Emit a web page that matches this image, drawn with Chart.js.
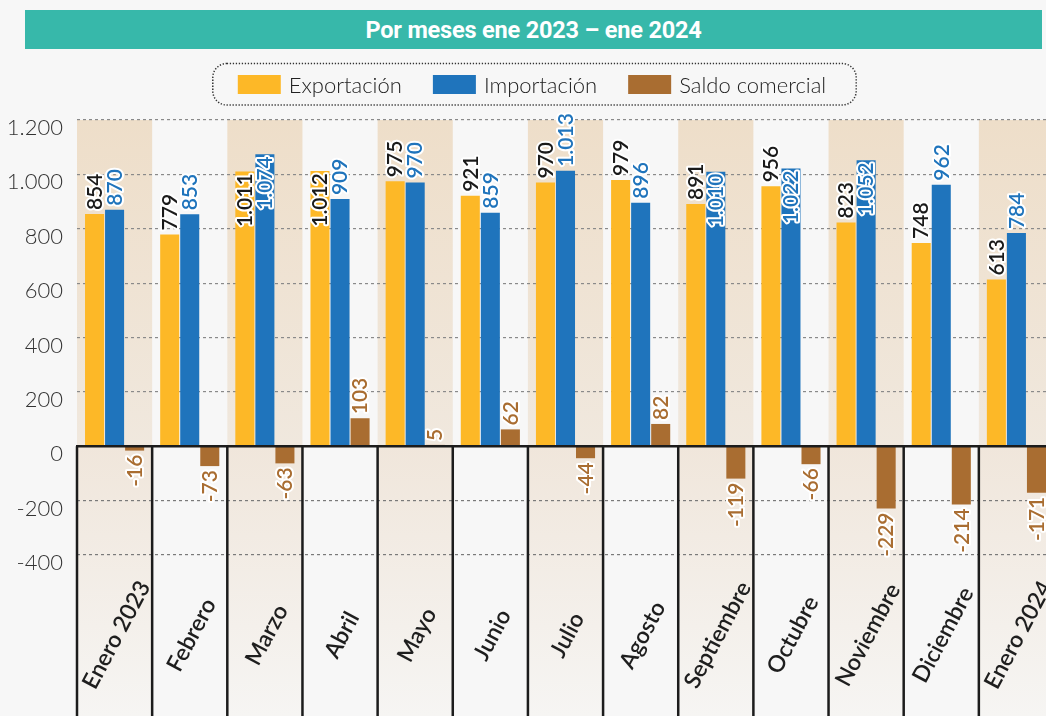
<!DOCTYPE html>
<html><head><meta charset="utf-8">
<script src="https://cdn.jsdelivr.net/npm/chart.js@4"></script>
<style>
html,body{margin:0;padding:0;background:#f7f7f7;overflow:hidden;width:1046px;height:716px}
#wrap{position:relative;width:1060px;height:716px}
#hdr{position:absolute;left:25px;top:10px;width:1017px;height:39px;background:#37b8aa;display:flex;align-items:center;justify-content:center;}
#hdr span{color:#fff;font:700 24px Roboto, sans-serif;display:inline-block;transform:scaleX(0.98);white-space:nowrap;letter-spacing:-0.2px}
canvas{position:absolute;left:0;top:0}
</style></head>
<body><div id="wrap"><canvas id="c" width="1060" height="716"></canvas><div id="hdr"><span>Por meses ene 2023 – ene 2024</span></div></div>
<script>
const categories = ['Enero 2023','Febrero','Marzo','Abril','Mayo','Junio','Julio','Agosto','Septiembre','Octubre','Noviembre','Diciembre','Enero 2024'];
const exportaciones = [854, 779, 1011, 1012, 975, 921, 970, 979, 891, 956, 823, 748, 613];
const importaciones = [870, 853, 1074, 909, 970, 859, 1013, 896, 1010, 1022, 1052, 962, 784];
const saldoComercial = [-16, -73, -63, 103, 5, 62, -44, 82, -119, -66, -229, -214, -171];
const yTickValues = [-400, -200, 0, 200, 400, 600, 800, 1000, 1200];
const seriesNames = ['Exportación', 'Importación', 'Saldo comercial'];

// label placement choices (style): which bars carry their value label inside the bar top
const insideLabels = [[2, 3], [2, 8, 9, 10], []];
const barColors = ['#fdb827', '#1f74bc', '#a96d31'];
const labelColors = ['#1a1a1a', '#1f74bc', '#a96d31'];

function fmt(v){
  const s = Math.abs(v).toString().replace(/\B(?=(\d{3})+(?!\d))/g, '.');
  return (v < 0 ? '-' : '') + s;
}

const decor = {
  id: 'decor',
  beforeDraw(chart){
    const {ctx, chartArea, scales:{x, y}} = chart;
    const zeroY = y.getPixelForValue(0);
    const half = (x.getPixelForValue(1) - x.getPixelForValue(0)) / 2;
    const H = chart.height;
    const gUp = ctx.createLinearGradient(0, chartArea.top, 0, zeroY);
    gUp.addColorStop(0, '#eedec9'); gUp.addColorStop(1, '#f0e8de');
    const gDn = ctx.createLinearGradient(0, zeroY, 0, H);
    gDn.addColorStop(0, '#f0e6db'); gDn.addColorStop(1, '#f6f5f3');
    ctx.save();
    categories.forEach((c, i) => {
      if (i % 2) return;
      const cx = x.getPixelForValue(i);
      ctx.fillStyle = gUp; ctx.fillRect(cx - half, chartArea.top, 2 * half, zeroY - chartArea.top);
      ctx.fillStyle = gDn; ctx.fillRect(cx - half, zeroY, 2 * half, H - zeroY);
    });
    ctx.restore();
  },
  afterDatasetsDraw(chart){
    const {ctx, chartArea, scales:{x, y}} = chart;
    const zeroY = y.getPixelForValue(0);
    const half = (x.getPixelForValue(1) - x.getPixelForValue(0)) / 2;
    const H = chart.height;
    ctx.save();
    ctx.strokeStyle = '#1c1c1c';
    ctx.lineWidth = 2.5;
    ctx.beginPath();
    ctx.moveTo(chartArea.left - 1, zeroY); ctx.lineTo(chartArea.right, zeroY);
    for (let i = 0; i <= categories.length; i++) {
      const bx = x.getPixelForValue(0) - half + i * 2 * half;
      ctx.moveTo(bx, zeroY); ctx.lineTo(bx, H);
    }
    ctx.stroke();

    // value labels
    ctx.font = '600 21px "Lato Semibold", Lato';
    ctx.textBaseline = 'middle';
    ctx.lineJoin = 'round';
    ctx.lineWidth = 4;
    ctx.strokeStyle = '#ffffff';
    chart.data.datasets.forEach((ds, d) => {
      const meta = chart.getDatasetMeta(d);
      meta.data.forEach((bar, i) => {
        const v = ds.data[i];
        const txt = fmt(v);
        ctx.save();
        ctx.translate(bar.x + 0.5, bar.y);
        ctx.rotate(-Math.PI / 2);
        let tx;
        if (v >= 0) {
          if (insideLabels[d].includes(i)) { ctx.textAlign = 'right'; tx = -2; }
          else { ctx.textAlign = 'left'; tx = 4; }
        } else { ctx.textAlign = 'right'; tx = -4; }
        ctx.strokeText(txt, tx, 0);
        ctx.fillStyle = labelColors[d];
        ctx.fillText(txt, tx, 0);
        ctx.restore();
      });
    });
    ctx.restore();
  },
  afterDraw(chart){
    const {ctx, scales:{x}} = chart;
    ctx.save();
    // category labels
    ctx.font = '600 23px "Lato Semibold", Lato';
    ctx.fillStyle = '#1e1e1e';
    ctx.textAlign = 'center';
    ctx.textBaseline = 'middle';
    categories.forEach((c, i) => {
      ctx.save();
      ctx.translate(x.getPixelForValue(i) + 2, 635);
      ctx.rotate(-62 * Math.PI / 180);
      ctx.fillText(c, 0, 0);
      ctx.restore();
    });
    // legend
    ctx.font = '300 22px Lato';
    const items = chart.data.datasets.map(ds => ({label: ds.label, color: ds.backgroundColor, w: ctx.measureText(ds.label).width}));
    const boxW = 43, boxH = 19, gapBT = 8, gapItems = 31;
    const total = items.reduce((s, it) => s + boxW + gapBT + it.w, 0) + gapItems * (items.length - 1);
    let xx = 532 - total / 2;
    const cy = 84.5;
    ctx.beginPath();
    ctx.roundRect(xx - 25, 63.5, total + 55, 41.5, 14);
    ctx.setLineDash([1.3, 1.7]);
    ctx.lineWidth = 1.5;
    ctx.strokeStyle = '#333';
    ctx.stroke();
    ctx.setLineDash([]);
    ctx.textAlign = 'left';
    ctx.textBaseline = 'middle';
    items.forEach(it => {
      ctx.fillStyle = it.color;
      ctx.fillRect(xx, cy - boxH / 2, boxW, boxH);
      ctx.fillStyle = '#222';
      ctx.fillText(it.label, xx + boxW + gapBT, cy + 1);
      xx += boxW + gapBT + it.w + gapItems;
    });
    ctx.restore();
  }
};

new Chart(document.getElementById('c'), {
  type: 'bar',
  data: {
    labels: categories,
    datasets: [
      {label: seriesNames[0], data: exportaciones, backgroundColor: barColors[0]},
      {label: seriesNames[1], data: importaciones, backgroundColor: barColors[1]},
      {label: seriesNames[2], data: saldoComercial, backgroundColor: barColors[2]}
    ]
  },
  options: {
    responsive: false,
    animation: false,
    devicePixelRatio: 1,
    layout: {padding: {top: 120, bottom: 161, left: 0, right: 6}},
    datasets: {bar: {barPercentage: 0.95, categoryPercentage: 0.8, borderWidth: 0}},
    plugins: {legend: {display: false}, title: {display: false}, tooltip: {enabled: false}},
    scales: {
      x: {display: false},
      y: {
        min: -400, max: 1200,
        afterBuildTicks: s => { s.ticks = yTickValues.map(v => ({value: v})); },
        afterFit: s => { s.width = 77; },
        ticks: {padding: 14, labelOffset: 8, color: '#333', font: {family: 'Lato', weight: '300', size: 22}, callback: v => fmt(v)},
        grid: {drawTicks: false, color: c => (c.tick && c.tick.value === 0) ? 'rgba(0,0,0,0)' : (c.tick && c.tick.value < 0 ? '#7a7a7a' : '#8a8a8a'), lineWidth: 1.2},
        border: {display: false, dash: [3, 3]}
      }
    }
  },
  plugins: [decor]
});
</script>
</body></html>
